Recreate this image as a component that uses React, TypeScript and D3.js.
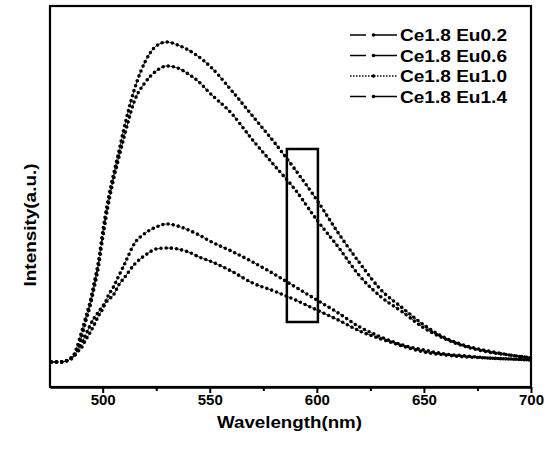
import * as d3 from "d3";
import { useEffect, useRef } from "react";

// emission spectra (a.u.)
const wavelengths = [
  476, 480, 484, 486, 488, 490, 492, 494, 496, 498, 500, 502.5, 505, 507.5, 510,
  515, 520, 525, 530, 535, 540, 545, 550, 560, 570, 580, 590, 600, 610, 620, 630,
  640, 650, 660, 670, 680, 690, 700,
];
const eu02 = [
  25, 25, 27, 30, 40, 54, 69, 84, 104, 125, 155, 187, 212, 235, 259, 299, 326,
  341, 345, 342, 337, 330, 321, 297, 271, 245, 217, 187, 154, 124, 97, 79, 62, 49,
  41, 36, 32, 29,
];
const eu06 = [
  25, 25, 27, 29, 36, 49, 65, 80, 99, 120, 149, 181, 207, 229, 250, 287, 305,
  316, 321, 319, 313, 305, 294, 274, 247, 222, 197, 167, 140, 111, 90, 75, 59, 48,
  40, 35, 32, 29,
];
const eu10 = [
  25, 25, 27, 31, 35, 39, 47, 54, 62, 71, 78, 91, 100, 111, 122, 144, 154, 160,
  163, 161, 157, 152, 146, 136, 125, 113, 100, 87, 74, 60, 50, 42, 37, 33, 31, 29,
  28, 27,
];
const eu14 = [
  25, 25, 27, 30, 35, 43, 52, 61, 69, 75, 81, 87, 92, 102, 109, 123, 132, 138,
  139, 138, 135, 130, 126, 116, 104, 96, 87, 77, 67, 56, 48, 41, 35, 32, 30, 29,
  28, 27,
];
const seriesNames = ["Ce1.8 Eu0.2", "Ce1.8 Eu0.6", "Ce1.8 Eu1.0", "Ce1.8 Eu1.4"];
const seriesValues = [eu02, eu06, eu10, eu14];
const seriesDash = [null, null, "1.5 1.5", null];

const xTicks = [500, 550, 600, 650, 700];
const xMinorTicks = [525, 575, 625, 675];
const boxWave = [586, 600.5];
const boxIntensity = [65, 238];

export default function App() {
  const ref = useRef<SVGSVGElement>(null);

  useEffect(() => {
    if (!ref.current) return;
    const svg = d3.select(ref.current);
    svg.selectAll("*").remove();

    const width = 548;
    const height = 450;
    const left = 50, right = 531, top = 6, bottom = 387;
    const font = "'Liberation Sans', Arial, sans-serif";

    svg.attr("width", width).attr("height", height);

    const x = d3.scaleLinear().domain([475.4, 700]).range([left, right]);
    const y = d3.scaleLinear().domain([0, 381]).range([bottom, top]);

    const line = d3
      .line<number>()
      .x((_, i) => x(wavelengths[i]))
      .y((d) => y(d))
      .curve(d3.curveMonotoneX);

    const plot = svg.append("g");

    seriesValues.forEach((vals, i) => {
      // thin connecting line
      plot
        .append("path")
        .attr("d", line(vals))
        .attr("fill", "none")
        .attr("stroke", "#000")
        .attr("stroke-width", 0.8)
        .attr("stroke-dasharray", seriesDash[i] ?? "7 3");
      // symbols along the trace
      plot
        .append("path")
        .attr("d", line(vals))
        .attr("fill", "none")
        .attr("stroke", "#000")
        .attr("stroke-width", 3.6)
        .attr("stroke-linecap", "round")
        .attr("stroke-dasharray", "0 5.2");
    });

    // highlighted window
    plot
      .append("rect")
      .attr("x", x(boxWave[0]))
      .attr("y", y(boxIntensity[1]))
      .attr("width", x(boxWave[1]) - x(boxWave[0]))
      .attr("height", y(boxIntensity[0]) - y(boxIntensity[1]))
      .attr("fill", "none")
      .attr("stroke", "#000")
      .attr("stroke-width", 2.5);

    // frame
    svg
      .append("rect")
      .attr("x", left)
      .attr("y", top)
      .attr("width", right - left)
      .attr("height", bottom - top)
      .attr("fill", "none")
      .attr("stroke", "#000")
      .attr("stroke-width", 2.2);

    const xAxis = svg
      .append("g")
      .attr("transform", `translate(0,${bottom})`)
      .call(d3.axisBottom(x).tickValues(xTicks).tickSize(6).tickSizeOuter(0).tickPadding(1));
    xAxis.select(".domain").attr("stroke-width", 2.5);
    xAxis.selectAll(".tick line").attr("stroke-width", 2);
    xAxis
      .selectAll(".tick text")
      .attr("font-family", font)
      .attr("font-weight", "bold")
      .attr("font-size", 15)
      .attr("fill", "#000");

    svg
      .append("g")
      .attr("transform", `translate(0,${bottom})`)
      .call(d3.axisBottom(x).tickValues(xMinorTicks).tickSize(4).tickFormat(() => ""))
      .call((g) => g.select(".domain").remove())
      .selectAll(".tick line")
      .attr("stroke-width", 2);

    svg
      .append("text")
      .attr("x", (left + right) / 2 - 1)
      .attr("y", 428)
      .attr("text-anchor", "middle")
      .attr("font-family", font)
      .attr("font-weight", "bold")
      .attr("font-size", 17)
      .attr("textLength", 145)
      .attr("lengthAdjust", "spacingAndGlyphs")
      .text("Wavelength(nm)");

    svg
      .append("text")
      .attr("transform", `translate(36,225) rotate(-90)`)
      .attr("text-anchor", "middle")
      .attr("font-family", font)
      .attr("font-weight", "bold")
      .attr("font-size", 17)
      .attr("textLength", 123)
      .attr("lengthAdjust", "spacingAndGlyphs")
      .text("Intensity(a.u.)");

    // legend
    const legend = svg.append("g").attr("transform", "translate(350,35)");
    seriesNames.forEach((name, i) => {
      const row = legend.append("g").attr("transform", `translate(0,${i * 20.5})`);
      row
        .append("line")
        .attr("x1", 0)
        .attr("x2", 47)
        .attr("stroke", "#000")
        .attr("stroke-width", 1.3)
        .attr("stroke-dasharray", seriesDash[i] ? "1.5 1.5" : "16 7 24");
      row.append("circle").attr("cx", 23.5).attr("r", 1.8).attr("fill", "#000");
      row
        .append("text")
        .attr("x", 50)
        .attr("y", 6)
        .attr("font-family", font)
        .attr("font-weight", "bold")
        .attr("font-size", 17)
        .attr("textLength", 107)
        .attr("lengthAdjust", "spacingAndGlyphs")
        .text(name);
    });
  }, []);

  return (
    <svg
      ref={ref}
      style={{ position: "absolute", left: 0, top: 0, background: "#fff" }}
    />
  );
}
